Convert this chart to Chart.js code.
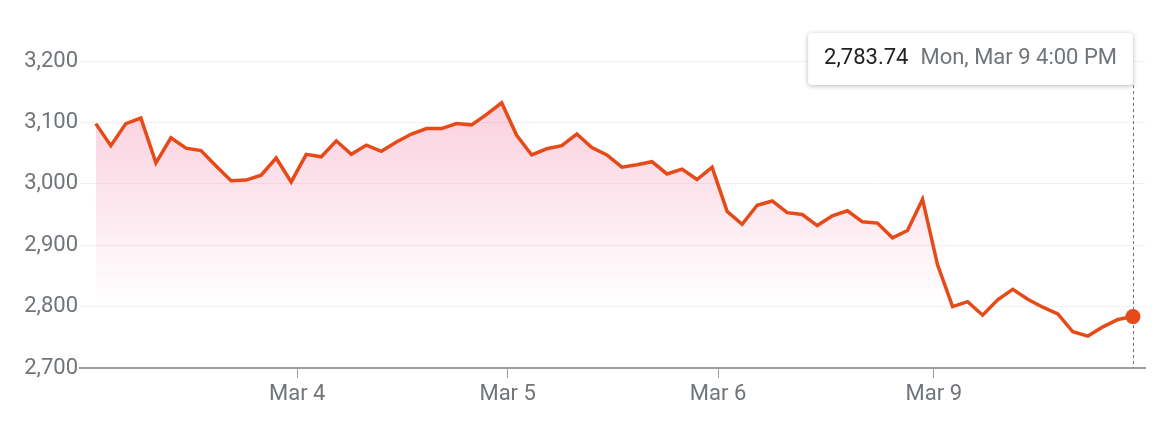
<!DOCTYPE html>
<html>
<head>
<meta charset="utf-8">
<script src="https://cdn.jsdelivr.net/npm/chart.js@4"></script>
<style>
    html, body { margin: 0; padding: 0; background: #fff; }
    #wrap { width: 1159px; height: 427px; position: relative; }
</style>
</head>
<body>
<div id="wrap"><canvas id="price-chart"></canvas></div>
<script>
// index closes, one point every 30 min, Mar 3 -> Mar 9 4:00 PM
const prices = [
    3098, 3062, 3098, 3107, 3034, 3075, 3058, 3054, 3029, 3005,
    3006, 3014, 3042, 3003, 3048, 3044, 3070, 3048, 3063, 3053,
    3068, 3081, 3090, 3090, 3098, 3096, 3113, 3132, 3079, 3047,
    3057, 3062, 3081, 3059, 3047, 3027, 3031, 3036, 3016, 3024,
    3007, 3027, 2955, 2934, 2965, 2972, 2953, 2950, 2932, 2948,
    2956, 2938, 2936, 2912, 2924, 2975, 2868, 2800, 2808, 2786,
    2811, 2828, 2812, 2799, 2788, 2759, 2752, 2767, 2779, 2783.74
];
const dayTickPos = [13.4, 27.4, 41.4, 55.75];
const dayLabels = ['Mar 4', 'Mar 5', 'Mar 6', 'Mar 9'];
const yTicks = [2700, 2800, 2900, 3000, 3100, 3200];
const lastLabel = 'Mon, Mar 9 4:00 PM';

const lineColor = '#e64a19';
const fontFamily = 'Roboto, Arial, sans-serif';
const fontSize = 22;

const hoverPlugin = {
    id: 'hoverBox',
    afterDatasetsDraw(chart) {
        const ctx = chart.ctx;
        const meta = chart.getDatasetMeta(0);
        const pt = meta.data[prices.length - 1];
        const area = chart.chartArea;
        const boxTop = 33, boxBottom = 85, boxRight = 1133;

        // dotted guide line
        ctx.save();
        ctx.strokeStyle = '#757575';
        ctx.lineWidth = 1;
        ctx.setLineDash([3, 3]);
        ctx.beginPath();
        ctx.moveTo(Math.round(pt.x) + 0.5, boxBottom);
        ctx.lineTo(Math.round(pt.x) + 0.5, area.bottom);
        ctx.stroke();
        ctx.restore();

        // redraw the marker on top of the line
        ctx.save();
        ctx.fillStyle = lineColor;
        ctx.beginPath();
        ctx.arc(pt.x, pt.y, 7.5, 0, Math.PI * 2);
        ctx.fill();
        ctx.restore();

        // tooltip box
        const valText = prices[prices.length - 1].toLocaleString('en-US', { minimumFractionDigits: 2 });
        ctx.save();
        ctx.font = fontSize + 'px ' + fontFamily;
        const w1 = ctx.measureText(valText).width;
        const w2 = ctx.measureText(lastLabel).width;
        const padX = 16, gap = 12;
        const boxW = padX * 2 + w1 + gap + w2;
        const boxLeft = boxRight - boxW;
        ctx.shadowColor = 'rgba(0,0,0,0.28)';
        ctx.shadowBlur = 5;
        ctx.shadowOffsetY = 1;
        ctx.fillStyle = '#fff';
        ctx.beginPath();
        ctx.roundRect(boxLeft, boxTop, boxW, boxBottom - boxTop, 4);
        ctx.fill();
        ctx.shadowColor = 'transparent';
        ctx.textBaseline = 'middle';
        ctx.fillStyle = '#202124';
        ctx.fillText(valText, boxLeft + padX, 58);
        ctx.fillStyle = '#70757a';
        ctx.fillText(lastLabel, boxLeft + padX + w1 + gap, 58);
        ctx.restore();
    }
};

new Chart(document.getElementById('price-chart'), {
    type: 'line',
    data: {
        datasets: [{
            data: prices.map((p, i) => ({ x: i, y: p })),
            borderColor: lineColor,
            borderWidth: 3.5,
            tension: 0,
            pointRadius: 0,
            fill: 'start',
            backgroundColor: function (context) {
                const area = context.chart.chartArea;
                if (!area) return 'transparent';
                const g = context.chart.ctx.createLinearGradient(0, area.top, 0, 305);
                g.addColorStop(0, 'rgba(236,64,122,0.30)');
                g.addColorStop(1, 'rgba(236,64,122,0)');
                return g;
            }
        }]
    },
    options: {
        responsive: true,
        maintainAspectRatio: false,
        animation: false,
        events: [],
        plugins: {
            legend: { display: false },
            title: { display: false },
            tooltip: { enabled: false }
        },
        layout: {
            padding: { left: 0, right: 14, top: 61, bottom: 0 }
        },
        scales: {
            x: {
                type: 'linear',
                min: -1.05,
                max: 69.8,
                afterBuildTicks: function (scale) {
                    scale.ticks = dayTickPos.map(v => ({ value: v }));
                },
                afterFit: function (scale) { scale.height = 59; },
                grid: {
                    drawOnChartArea: false,
                    drawTicks: true,
                    tickLength: 10,
                    color: '#9e9e9e'
                },
                border: { display: true, color: '#9e9e9e', width: 2 },
                ticks: {
                    autoSkip: false,
                    maxRotation: 0,
                    padding: 3,
                    color: '#70757a',
                    font: { family: fontFamily, size: fontSize },
                    callback: function (value, index) { return dayLabels[index]; }
                }
            },
            y: {
                min: 2700,
                max: 3200,
                afterBuildTicks: function (scale) {
                    scale.ticks = yTicks.map(v => ({ value: v }));
                },
                afterFit: function (scale) { scale.width = 80; },
                grid: { drawTicks: false, color: '#f1f1f1', lineWidth: 1 },
                border: { display: false },
                ticks: {
                    padding: 2,
                    color: '#70757a',
                    font: { family: fontFamily, size: fontSize },
                    callback: function (value) { return value.toLocaleString('en-US'); }
                }
            }
        }
    },
    plugins: [hoverPlugin]
});
</script>
</body>
</html>
